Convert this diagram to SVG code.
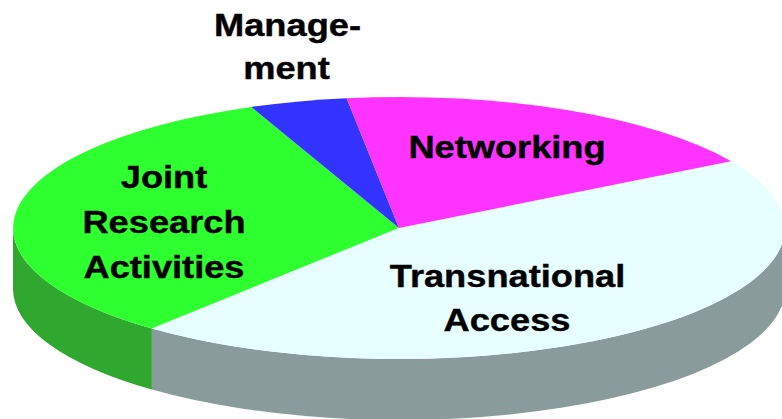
<svg xmlns="http://www.w3.org/2000/svg" width="782" height="419" viewBox="0 0 782 419">
<style>
.lbl{font-family:"Liberation Sans",Arial,sans-serif;font-weight:bold;font-size:31.5px;fill:#000;text-anchor:middle;stroke:#000;stroke-width:0.4px}
</style>
<rect width="782" height="419" fill="#fff"/>
<g id="slice-jra">
<path d="M13,228 A386,131 0 0 0 151.9,328.6 L151.9,389.6 A386,131 0 0 1 13,289 Z" fill="#30A830"/>
<path d="M399,228 L151.9,328.6 A386,131 0 0 1 251.3,107 Z" fill="#2EFF2E"/>
<text class="lbl" transform="translate(164,188) scale(1.15,1)">Joint</text>
<text class="lbl" transform="translate(164,233) scale(1.15,1)">Research</text>
<text class="lbl" transform="translate(164,278) scale(1.15,1)">Activities</text>
</g>
<g id="slice-ta">
<path d="M151.9,328.6 A386,131 0 0 0 785,228 L785,289 A386,131 0 0 1 151.9,389.6 Z" fill="#8A9B9B"/>
<path d="M399,228 L731.2,161.3 A386,131 0 0 1 151.9,328.6 Z" fill="#E8FFFF"/>
<text class="lbl" transform="translate(507.5,287) scale(1.15,1)">Transnational</text>
<text class="lbl" transform="translate(507,331) scale(1.15,1)">Access</text>
</g>
<g id="slice-mgmt">
<path d="M399,228 L251.3,107 A386,131 0 0 1 346.6,98.2 Z" fill="#3333FF"/>
<text class="lbl" transform="translate(287.5,36) scale(1.15,1)">Manage-</text>
<text class="lbl" transform="translate(286.5,79) scale(1.15,1)">ment</text>
</g>
<g id="slice-net">
<path d="M399,228 L346.6,98.2 A386,131 0 0 1 731.2,161.3 Z" fill="#FF33FF"/>
<text class="lbl" transform="translate(507,158) scale(1.15,1)">Networking</text>
</g>
</svg>
